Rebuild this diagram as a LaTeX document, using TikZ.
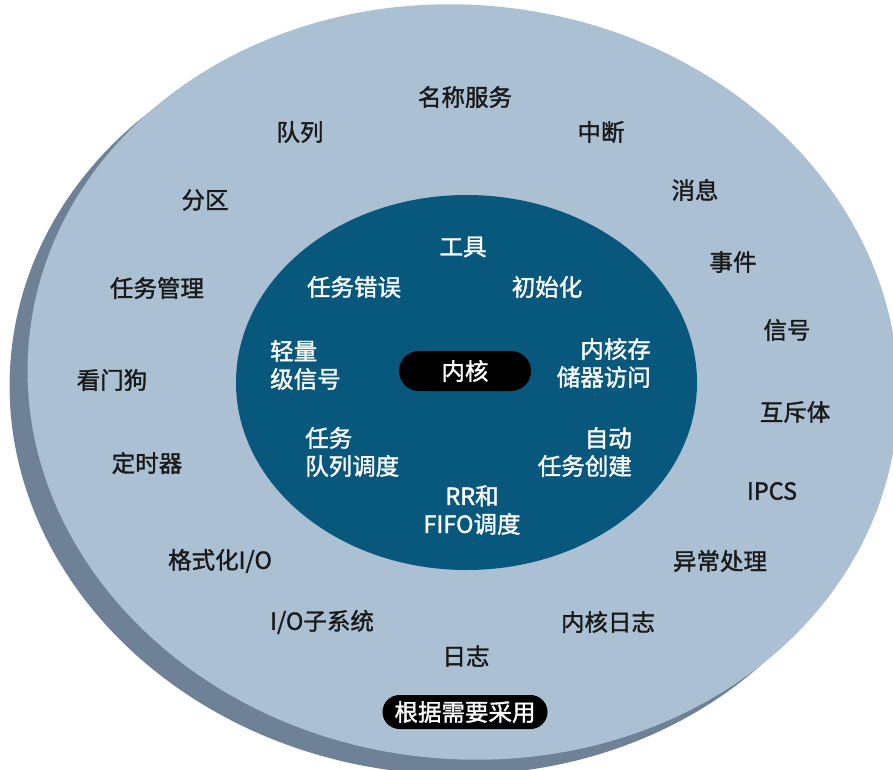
\documentclass[tikz,border=0pt]{standalone}
\usepackage{fontspec}
\setmainfont{Noto Sans CJK SC}[FakeBold=1.4]
\usetikzlibrary{positioning}

\definecolor{ringblue}{HTML}{ABC0D3}
\definecolor{ringshadow}{HTML}{6F8196}
\definecolor{coreblue}{HTML}{08587D}

\tikzset{
  outerlabel/.style={font=\fontsize{23.5}{28}\selectfont, text=black!90, inner sep=0pt},
  innerlabel/.style={font=\fontsize{23.5}{28}\selectfont, text=white, inner sep=0pt},
  pill/.style={fill=black, text=white, inner sep=0pt, font=\fontsize{23.5}{28}\selectfont}
}

\begin{document}
\begin{tikzpicture}[x=1pt,y=-1pt]
			\clip (0,0) rectangle (893,769);
			% Define the centres of the rings
			\coordinate (rc) at (463,382);
			\coordinate (sc) at (445,397);
			\coordinate (kc) at (466.5,382.5);

			% Draw the rings
			\fill[ringshadow, rotate around={-6:(sc)}] (sc) ellipse [x radius=436pt, y radius=377pt];
			\fill[ringblue, rotate around={-6:(rc)}] (rc) ellipse [x radius=436pt, y radius=377pt];
			\fill[coreblue] (kc) ellipse [x radius=230.5pt, y radius=187.5pt];

			% Outer ring labels
			\foreach \nm/\px/\py/\txt in {mcfw/465/97/名称服务, dl/300/132/队列, zd/601/132/中断,
				fq/205/200/分区, xx/695/190/消息, sj/733/262/事件, rwgl/157/288/任务管理,
				xh/787/330/信号, kmg/112/380/看门狗, hct/795/412/互斥体, dsq/147/463/定时器,
				ipcs/772/491/IPCS, gsh/220/561/{格式化I/O}, yccl/720/561/异常处理,
				zxt/322/622/{I/O子系统}, nhrz/608/622/内核日志, rz/466/656/日志}
			\node[outerlabel] (\nm) at (\px,\py) {\txt};

			% Inner ring labels
			\node[innerlabel] (gj) at (463,247) {工具};
			\node[innerlabel] (rwcw) at (354,287) {任务错误};
			\node[innerlabel] (csh) at (547,287) {初始化};
			\node[innerlabel, anchor=west, align=left] (qlj) at (270,365) {轻量\\级信号};
			\node[innerlabel, anchor=east, align=right] (ccfw) at (651,363) {内核存\\储器访问};
			\node[innerlabel, anchor=west, align=left] (dlxd) at (305,452) {任务\\队列调度};
			\node[innerlabel, anchor=east, align=right] (zdcj) at (632,452) {自动\\任务创建};
			\node[innerlabel, align=center] (rrff) at (472,510) {RR和\\FIFO调度};

			% Kernel and optional pills
			\node[pill, minimum width=132pt, minimum height=40pt, rounded corners=20pt] (nh) at (465,371) {内核};
			\node[pill, minimum width=165pt, minimum height=34pt, rounded corners=17pt] (gjxy) at (465,712) {根据需要采用};
\end{tikzpicture}
\end{document}
